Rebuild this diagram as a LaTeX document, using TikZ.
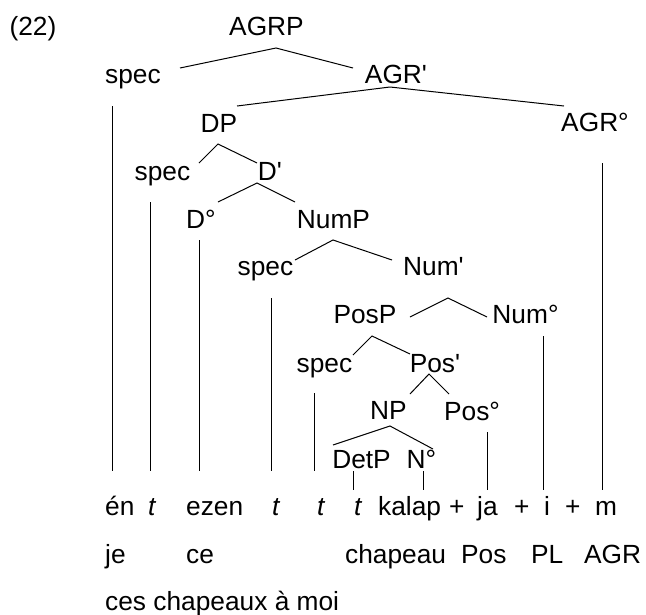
\documentclass[tikz,border=0pt]{standalone}
\usepackage{fontspec}
\usepackage{tikz}
\usetikzlibrary{positioning}
\newfontfamily\arial{Liberation Sans}
\newcommand{\tfont}{\fontsize{26.3}{31}\selectfont\arial}
\tikzset{%
	lab/.style    = {font=\tfont, inner sep=0pt, anchor=base},
	wd/.style     = {font=\tfont, inner sep=0pt, anchor=base west},
	branch/.style = {line width=1pt},
}

\begin{document}
\begin{tikzpicture}[x=1pt,y=-1pt]
	\useasboundingbox (0,0) rectangle (646,614);
	% tree labels
	\node[lab] (ex) at (33,35) {(22)};
	\node[lab] (agrp) at (266.5,35) {AGRP};
	\node[lab] (specA) at (133,83) {spec};
	\node[lab] (agrbar) at (396,83) {AGR'};
	\node[lab] (dp) at (219,132) {DP};
	\node[lab] (agr0) at (595,131) {AGR°};
	\node[lab] (specD) at (162.5,180) {spec};
	\node[lab] (dbar) at (270,180) {D'};
	\node[lab] (d0) at (201,228) {D°};
	\node[lab] (nump) at (333.5,228) {NumP};
	\node[lab] (specNum) at (265.5,275) {spec};
	\node[lab] (numbar) at (433.5,275) {Num'};
	\node[lab] (posp) at (365,323) {PosP};
	\node[lab] (num0) at (525.5,323) {Num°};
	\node[lab] (specPos) at (324.5,372) {spec};
	\node[lab] (posbar) at (435,372) {Pos'};
	\node[lab] (np) at (388.5,419) {NP};
	\node[lab] (pos0) at (472,420) {Pos°};
	\node[lab] (detp) at (361.5,468) {DetP};
	\node[lab] (n0) at (421.5,468) {N°};
	
	% words
	\node[wd] (en) at (105,515) {én};
	\node[wd] (tA) at (148,515) {\itshape t};
	\node[wd] (ezen) at (186,515) {ezen};
	\node[wd] (tB) at (272,515) {\itshape t};
	\node[wd] (tC) at (317,515) {\itshape t};
	\node[wd] (tD) at (354,515) {\itshape t};
	\node[wd] (kalap) at (378,515) {kalap};
	\node[wd] (plA) at (449,515) {+};
	\node[wd] (ja) at (477,515) {ja};
	\node[wd] (plB) at (514,515) {+};
	\node[wd] (i) at (544,515) {i};
	\node[wd] (plC) at (565,515) {+};
	\node[wd] (m) at (595,515) {m};
	\node[wd] (je) at (105,563) {je};
	\node[wd] (ce) at (186,563) {ce};
	\node[wd] (chapeau) at (345,563) {chapeau};
	\node[wd] (gPos) at (461,563) {Pos};
	\node[wd] (gPL) at (531,563) {PL};
	\node[wd] (gAGR) at (584,563) {AGR};
	\node[wd] (trans) at (105,610) {ces chapeaux à moi};
	
	% branches
	\coordinate (t1) at (276,48);  \coordinate (l1) at (180,68);  \coordinate (r1) at (353,68);
	\coordinate (t2) at (390,87);  \coordinate (l2) at (237,106); \coordinate (r2) at (564,106);
	\coordinate (t3) at (218,144); \coordinate (l3) at (199,163); \coordinate (r3) at (257,163);
	\coordinate (t4) at (257,183); \coordinate (l4) at (218,202); \coordinate (r4) at (295,202);
	\coordinate (t5) at (333,240); \coordinate (l5) at (295,260); \coordinate (r5) at (392,260);
	\coordinate (t6) at (448,298); \coordinate (l6) at (410,317); \coordinate (r6) at (487,317);
	\coordinate (t7) at (372,336); \coordinate (l7) at (353,355); \coordinate (r7) at (410,354);
	\coordinate (t8) at (429,374); \coordinate (l8) at (410,394); \coordinate (r8) at (449,394);
	\coordinate (t9) at (390,426); \coordinate (l9) at (333,445); \coordinate (r9) at (433,449);
	\foreach \n in {1,...,9} \draw[branch] (l\n) -- (t\n) -- (r\n);
	
	% traces down to the words
	\foreach \x/\ya/\yb in {112/106/471, 150/202/471, 199/240/471, 271/298/471, 314/393/471, 353/471/490, 423/471/490, 487/432/490, 543/336/490, 602/163/490}
		\draw[branch] (\x,\ya) -- (\x,\yb);
\end{tikzpicture}
\end{document}
